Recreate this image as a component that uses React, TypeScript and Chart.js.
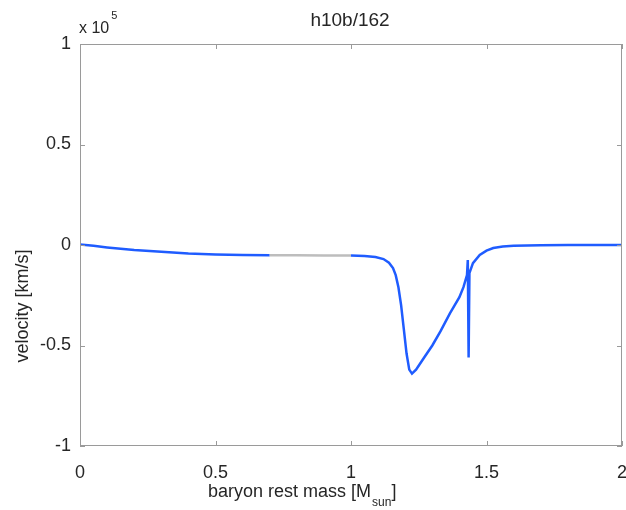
import React, { useEffect, useRef } from "react";
import { Chart, registerables } from "chart.js";

Chart.register(...registerables);

// baryon rest mass [M_sun]
const massX: number[] = [
  0, 0.05, 0.1, 0.15, 0.2, 0.3, 0.4, 0.5, 0.6, 0.7, 0.8, 0.9, 1.0, 1.05, 1.09,
  1.12, 1.14, 1.155, 1.165, 1.175, 1.185, 1.195, 1.205, 1.215, 1.225, 1.24,
  1.27, 1.3, 1.33, 1.365, 1.4, 1.415, 1.428, 1.431, 1.434, 1.437, 1.45, 1.475,
  1.5, 1.525, 1.56, 1.6, 1.7, 1.8, 1.9, 2.0,
];
// velocity [km/s] in units of 1e5
const velocityY: number[] = [
  0.003, -0.004, -0.012, -0.019, -0.025, -0.033, -0.042, -0.047, -0.05, -0.051,
  -0.051, -0.052, -0.052, -0.055, -0.06, -0.07, -0.088, -0.115, -0.15, -0.21,
  -0.3, -0.42, -0.54, -0.62, -0.64, -0.62, -0.56, -0.5, -0.43, -0.34, -0.26,
  -0.21, -0.15, -0.075, -0.56, -0.14, -0.09, -0.05, -0.028, -0.015, -0.008,
  -0.004, -0.001, 0, 0, 0,
];
const xTicks: number[] = [0, 0.5, 1, 1.5, 2];
const yTicks: number[] = [-1, -0.5, 0, 0.5, 1];
const titleText = "h10b/162";
const yTitle = "velocity [km/s]";
const xTitleMain = "baryon rest mass [M";
const xTitleSub = "sun";
const xTitleEnd = "]";
const exponentBase = "x 10";
const exponentPow = "5";

const FONT = "'Liberation Sans', Arial, Helvetica, sans-serif";
const BLUE = "#1f5cff";
const GREY = "#bdbdbd";
const AXIS = "#9a9a9a";
const TEXT = "#262626";

const decorPlugin = {
  id: "decor",
  afterDraw(chart: any) {
    const { ctx, chartArea: a, scales } = chart;
    const xs = scales.x;
    const ys = scales.y;
    ctx.save();
    ctx.strokeStyle = AXIS;
    ctx.lineWidth = 1;
    ctx.strokeRect(a.left + 0.5, a.top + 0.5, a.right - a.left - 1, a.bottom - a.top - 1);
    const tl = 5;
    ctx.beginPath();
    xTicks.forEach((v) => {
      const px = Math.round(xs.getPixelForValue(v)) + 0.5;
      ctx.moveTo(px, a.bottom);
      ctx.lineTo(px, a.bottom - tl);
      ctx.moveTo(px, a.top);
      ctx.lineTo(px, a.top + tl);
    });
    yTicks.forEach((v) => {
      const py = Math.round(ys.getPixelForValue(v)) + 0.5;
      ctx.moveTo(a.left, py);
      ctx.lineTo(a.left + tl, py);
      ctx.moveTo(a.right, py);
      ctx.lineTo(a.right - tl, py);
    });
    ctx.stroke();

    ctx.fillStyle = TEXT;
    // title
    ctx.font = `19px ${FONT}`;
    ctx.textAlign = "center";
    ctx.textBaseline = "alphabetic";
    ctx.fillText(titleText, 350, 26);

    // exponent
    ctx.textAlign = "left";
    ctx.font = `16px ${FONT}`;
    ctx.fillText(exponentBase, a.left - 1, 33);
    const w = ctx.measureText(exponentBase).width;
    ctx.font = `11px ${FONT}`;
    ctx.fillText(exponentPow, a.left - 1 + w + 2, 19);

    // x title with subscript
    ctx.font = `18px ${FONT}`;
    const x0 = 208;
    ctx.fillText(xTitleMain, x0, 497);
    const w1 = ctx.measureText(xTitleMain).width;
    ctx.font = `12px ${FONT}`;
    ctx.fillText(xTitleSub, x0 + w1 + 1, 506);
    const w2 = ctx.measureText(xTitleSub).width;
    ctx.font = `18px ${FONT}`;
    ctx.fillText(xTitleEnd, x0 + w1 + w2 + 1, 497);

    // y title
    ctx.translate(28, 306);
    ctx.rotate(-Math.PI / 2);
    ctx.textAlign = "center";
    ctx.fillText(yTitle, 0, 0);
    ctx.restore();
  },
};

export default function App() {
  const ref = useRef<HTMLCanvasElement | null>(null);
  useEffect(() => {
    document.body.style.margin = "0";
    const canvas = ref.current;
    if (!canvas) return;
    const data = massX.map((x, i) => ({ x, y: velocityY[i] }));
    const chart = new Chart(canvas, {
      type: "line",
      data: {
        datasets: [
          {
            data,
            borderColor: BLUE,
            borderWidth: 2.5,
            pointRadius: 0,
            tension: 0,
            fill: false,
            segment: {
              borderColor: (c: any) =>
                c.p0.parsed.x >= 0.7 && c.p1.parsed.x <= 1.0 ? GREY : BLUE,
            },
          },
        ],
      },
      options: {
        animation: false,
        responsive: false,
        maintainAspectRatio: false,
        layout: { padding: { top: 44, right: 4, left: 0, bottom: 0 } },
        plugins: {
          legend: { display: false },
          tooltip: { enabled: false },
          title: { display: false },
        },
        scales: {
          x: {
            type: "linear",
            min: 0,
            max: 2,
            afterFit: (s: any) => {
              s.height = 64;
              s.paddingLeft = 0;
              s.paddingRight = 0;
            },
            afterBuildTicks: (s: any) => {
              s.ticks = xTicks.map((v) => ({ value: v }));
            },
            grid: { display: false, drawTicks: false },
            border: { display: false },
            ticks: {
              padding: 16,
              color: TEXT,
              font: { family: FONT, size: 18 },
              callback: (v: any) => String(Number(v)),
              maxRotation: 0,
            },
          },
          y: {
            type: "linear",
            min: -1,
            max: 1,
            afterFit: (s: any) => {
              s.width = 80;
              s.paddingTop = 0;
              s.paddingBottom = 0;
            },
            afterBuildTicks: (s: any) => {
              s.ticks = yTicks.map((v) => ({ value: v }));
            },
            grid: { display: false, drawTicks: false },
            border: { display: false },
            ticks: {
              padding: 9,
              color: TEXT,
              font: { family: FONT, size: 18 },
              callback: (v: any) => (Number(v) === 0 ? "0" : String(Number(v))),
            },
          },
        },
      },
      plugins: [decorPlugin],
    });
    return () => chart.destroy();
  }, []);
  return (
    <div style={{ width: 626, height: 510, background: "#fff" }}>
      <canvas ref={ref} width={626} height={510} style={{ display: "block" }} />
    </div>
  );
}
